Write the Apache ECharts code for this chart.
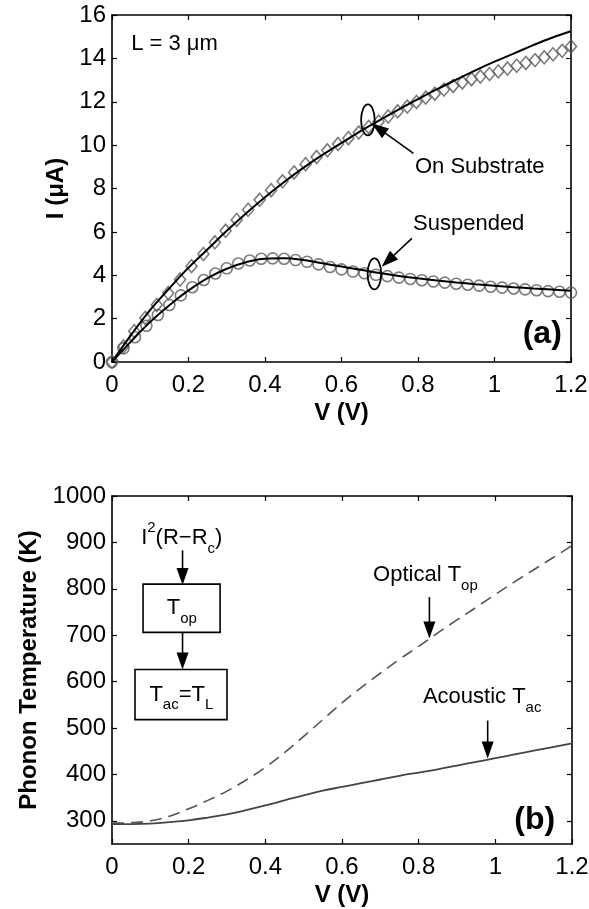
<!DOCTYPE html>
<html><head><meta charset="utf-8">
<script src="https://cdn.jsdelivr.net/npm/echarts@6/dist/echarts.min.js"></script>
<style>html,body{margin:0;padding:0;background:#fff}#c{width:589px;height:909px}</style>
</head><body><div id="c"></div><script>
// ---------- Data (panel a) ----------
const suspV = [0,0.03,0.06,0.09,0.12,0.15,0.18,0.21,0.24,0.27,0.30,0.33,0.36,0.39,0.42,0.45,0.48,0.51,0.54,0.57,0.60,0.63,0.66,0.69,0.72,0.75,0.78,0.81,0.84,0.87,0.90,0.93,0.96,0.99,1.02,1.05,1.08,1.11,1.14,1.17,1.20];
const suspI = [0,0.63,1.14,1.67,2.17,2.63,3.07,3.45,3.78,4.08,4.32,4.54,4.68,4.76,4.78,4.76,4.70,4.62,4.50,4.38,4.27,4.17,4.09,4.02,3.96,3.89,3.83,3.77,3.71,3.66,3.61,3.56,3.52,3.47,3.43,3.39,3.35,3.31,3.27,3.24,3.20];
const subV = [0,0.030,0.058,0.087,0.117,0.147,0.178,0.208,0.239,0.269,0.297,0.326,0.356,0.386,0.416,0.446,0.476,0.506,0.535,0.563,0.591,0.618,0.645,0.671,0.697,0.722,0.747,0.772,0.796,0.820,0.844,0.868,0.892,0.916,0.940,0.963,0.987,1.010,1.034,1.058,1.082,1.106,1.130,1.153,1.177,1.200];
const subI = [0,0.72,1.42,2.03,2.63,3.18,3.80,4.42,4.98,5.52,6.05,6.55,7.02,7.48,7.92,8.33,8.74,9.12,9.45,9.76,10.05,10.32,10.58,10.84,11.08,11.32,11.56,11.78,11.99,12.19,12.37,12.56,12.73,12.89,13.04,13.16,13.28,13.40,13.53,13.66,13.79,13.92,14.05,14.19,14.35,14.55];
const fitV = [0,0.05,0.1,0.15,0.2,0.25,0.3,0.35,0.4,0.45,0.5,0.55,0.6,0.65,0.7,0.75,0.8,0.85,0.9,0.95,1.0,1.05,1.1,1.15,1.2];
const fitSubI = [0,1.25,2.4,3.4,4.35,5.2,6.05,6.85,7.6,8.3,8.95,9.55,10.1,10.65,11.15,11.65,12.12,12.58,13.02,13.45,13.85,14.22,14.6,14.95,15.25];
const fitSuspI = [0,0.95,1.85,2.62,3.3,3.87,4.3,4.6,4.76,4.78,4.7,4.55,4.4,4.25,4.1,3.97,3.86,3.76,3.67,3.59,3.52,3.45,3.39,3.34,3.29];
// ---------- Data (panel b) ----------
const tempV = [0,0.05,0.1,0.15,0.2,0.25,0.3,0.35,0.4,0.45,0.5,0.55,0.6,0.65,0.7,0.75,0.8,0.85,0.9,0.95,1.0,1.05,1.1,1.15,1.2];
const tOptical = [295,296,300,310,326,344,364,388,415,447,482,518,554,587,618,648,676,705,733,760,788,815,841,867,893];
const tAcoustic = [293,293,294,297,301,307,314,323,333,344,355,365,373,381,389,397,404,411,419,427,435,443,451,459,467];
// ---------- Axis ticks ----------
const xTicksV = [0,0.2,0.4,0.6,0.8,1.0,1.2];
const yTicksI = [0,2,4,6,8,10,12,14,16];
const yTicksT = [300,400,500,600,700,800,900,1000];

const FONT = '"Liberation Sans", Arial, Helvetica, sans-serif';
const TICK_FS = 24, NAME_FS = 24;
const zip = (a,b)=>a.map((v,i)=>[v,b[i]]);
const chart = echarts.init(document.getElementById('c'), null, {renderer:'canvas'});

function xAx(grid, top){
  return {type:'value', gridIndex:grid, position: top?'top':'bottom', min:0, max:1.2, interval:0.2,
    name: top?'':'V (V)', nameLocation:'middle', nameGap:39,
    nameTextStyle:{fontFamily:FONT,fontWeight:'bold',fontSize:NAME_FS,color:'#000'},
    axisLine:{show:true,onZero:false,lineStyle:{color:'#000',width:1.6}},
    axisTick:{show:true,inside:true,length:5,lineStyle:{color:'#000',width:1.2}},
    axisLabel:{show:!top,margin:11,fontFamily:FONT,fontSize:TICK_FS,color:'#000',
      formatter:v=>String(Math.round(v*10)/10)},
    splitLine:{show:false}};
}
function yAx(grid, right, min, max, interval, ticks, name, gap){
  const o = {type:'value', gridIndex:grid, position: right?'right':'left', min:min, max:max,
    name: right?'':name, nameLocation:'middle', nameGap:gap,
    nameTextStyle:{fontFamily:FONT,fontWeight:'bold',fontSize:NAME_FS,color:'#000'},
    axisLine:{show:true,onZero:false,lineStyle:{color:'#000',width:1.6}},
    axisTick:{show:true,inside:true,length:5,lineStyle:{color:'#000',width:1.2}},
    axisLabel:{show:!right,margin:6,fontFamily:FONT,fontSize:TICK_FS,color:'#000',
      formatter:v=>String(Math.round(v))},
    splitLine:{show:false}};
  if (interval) o.interval = interval;
  else { o.axisTick.customValues = ticks; o.axisLabel.customValues = ticks; }
  return o;
}

const option = {
  backgroundColor:'#fff',
  animation:false,
  grid:[
    {left:112, right:18, top:15, height:347, outerBoundsMode:'none'},
    {left:112, right:17, top:496, height:348, outerBoundsMode:'none'}
  ],
  xAxis:[xAx(0,false), xAx(0,true), xAx(1,false), xAx(1,true)],
  yAxis:[
    yAx(0,false,0,16,2,null,'I (\u03bcA)',44),
    yAx(0,true,0,16,2,null,'',0),
    yAx(1,false,250,1000,null,yTicksT,'Phonon Temperature (K)',71),
    yAx(1,true,250,1000,null,yTicksT,'',0)
  ],
  series:[
    {type:'scatter', xAxisIndex:0, yAxisIndex:0, data:zip(subV,subI), symbol:'diamond', symbolSize:[11,13],
      itemStyle:{color:'rgba(0,0,0,0)', borderColor:'#5a5a5a', borderWidth:1.6}, z:2, silent:true},
    {type:'scatter', xAxisIndex:0, yAxisIndex:0, data:zip(suspV,suspI), symbol:'circle', symbolSize:11,
      itemStyle:{color:'rgba(0,0,0,0)', borderColor:'#5a5a5a', borderWidth:1.6}, z:2, silent:true},
    {type:'line', xAxisIndex:0, yAxisIndex:0, data:zip(fitV,fitSubI), smooth:0.4, showSymbol:false,
      lineStyle:{color:'#000', width:2}, z:3, silent:true},
    {type:'line', xAxisIndex:0, yAxisIndex:0, data:zip(fitV,fitSuspI), smooth:0.4, showSymbol:false,
      lineStyle:{color:'#000', width:2}, z:3, silent:true},
    {type:'line', xAxisIndex:2, yAxisIndex:2, data:zip(tempV,tOptical), smooth:0.4, showSymbol:false,
      lineStyle:{color:'#555', width:1.6, type:[12,7]}, z:3, silent:true},
    {type:'line', xAxisIndex:2, yAxisIndex:2, data:zip(tempV,tAcoustic), smooth:0.4, showSymbol:false,
      lineStyle:{color:'#444', width:1.8}, z:3, silent:true}
  ]
};
chart.setOption(option);

// ---------- Annotations (positions in data units) ----------
const pA = p => chart.convertToPixel({xAxisIndex:0, yAxisIndex:0}, p);
const pB = p => chart.convertToPixel({xAxisIndex:2, yAxisIndex:2}, p);
function arrow(p0, p1, head, hw){
  head = head||17; hw = hw||6;
  const dx=p1[0]-p0[0], dy=p1[1]-p0[1], L=Math.hypot(dx,dy), ux=dx/L, uy=dy/L;
  const bx=p1[0]-ux*head, by=p1[1]-uy*head, px=-uy*hw, py=ux*hw;
  return [
    {type:'line', shape:{x1:p0[0],y1:p0[1],x2:bx+ux*2,y2:by+uy*2}, style:{stroke:'#000',lineWidth:1.6}, z:100},
    {type:'polygon', shape:{points:[[p1[0],p1[1]],[bx+px,by+py],[bx-px,by-py]]}, style:{fill:'#000'}, z:100}
  ];
}
function txt(p, text, opts){
  return Object.assign({type:'text', x:p[0], y:p[1], z:100,
    style:Object.assign({text:text, font:'22px '+FONT, fill:'#000', align:'left', verticalAlign:'middle'}, opts||{})});
}
const richSub = {
  n:{fontFamily:FONT, fontSize:22, lineHeight:36, verticalAlign:'middle'},
  s:{fontFamily:FONT, fontSize:15, lineHeight:15, verticalAlign:'bottom'},
  u:{fontFamily:FONT, fontSize:15, lineHeight:15, verticalAlign:'top'}
};
function rich(p, text, align){
  return {type:'text', x:p[0], y:p[1], z:100,
    style:{text:text, rich:richSub, align:align||'left', verticalAlign:'middle', fill:'#000', font:'22px '+FONT}};
}
// panel a anchors
const ell1 = [0.669, 11.16], ell2 = [0.686, 4.06];
const arrSubFrom = [0.788, 9.62], arrSubTo = [0.679, 11.0];
const arrSusFrom = [0.784, 5.7], arrSusTo = [0.705, 4.39];
const lblSub = [0.792, 8.99], lblSus = [0.787, 6.36], lblL = [0.05, 14.66], lblA = [1.176, 1.29];
// panel b anchors
const lblIR = [0.182, 909];
const arr1 = [[0.184, 883],[0.184, 808]];
const box1 = [[0.081, 810],[0.282, 706]];
const lblTop = [0.182, 758];
const arr2 = [[0.184, 706],[0.184, 626]];
const box2 = [[0.06, 626],[0.30, 518]];
const lblTac = [0.181, 572];
const lblOpt = [0.681, 829];
const arrOpt = [[0.828, 782],[0.828, 693]];
const lblAco = [0.811, 566];
const arrAco = [[0.98, 516],[0.98, 434]];
const lblB = [1.156, 302];

const g = [];
[ell1, ell2].forEach(e=>{
  const c = pA(e);
  g.push({type:'ellipse', shape:{cx:c[0], cy:c[1], rx:6.8, ry:15.5}, style:{fill:'none', stroke:'#000', lineWidth:1.8}, z:100});
});
g.push(...arrow(pA(arrSubFrom), pA(arrSubTo)));
g.push(...arrow(pA(arrSusFrom), pA(arrSusTo)));
g.push(txt(pA(lblSub), 'On Substrate'));
g.push(txt(pA(lblSus), 'Suspended'));
g.push(txt(pA(lblL), 'L = 3 \u03bcm'));
g.push(txt(pA(lblA), '(a)', {font:'bold 32px '+FONT, align:'right'}));

function rect(b){
  const a = pB(b[0]), c = pB(b[1]);
  return {type:'rect', shape:{x:a[0], y:a[1], width:c[0]-a[0], height:c[1]-a[1]}, style:{fill:'#fff', stroke:'#000', lineWidth:1.6}, z:99};
}
g.push(rich(pB(lblIR), '{n|I}{u|2}{n|(R\u2212R}{s|c}{n|)}', 'center'));
g.push(...arrow(pB(arr1[0]), pB(arr1[1])));
g.push(rect(box1));
g.push(rich(pB(lblTop), '{n|T}{s|op}', 'center'));
g.push(...arrow(pB(arr2[0]), pB(arr2[1])));
g.push(rect(box2));
g.push(rich(pB(lblTac), '{n|T}{s|ac}{n|=T}{s|L}', 'center'));
g.push(rich(pB(lblOpt), '{n|Optical T}{s|op}'));
g.push(...arrow(pB(arrOpt[0]), pB(arrOpt[1])));
g.push(rich(pB(lblAco), '{n|Acoustic T}{s|ac}'));
g.push(...arrow(pB(arrAco[0]), pB(arrAco[1])));
g.push(txt(pB(lblB), '(b)', {font:'bold 32px '+FONT, align:'right'}));

chart.setOption({graphic: g});
</script></body></html>
